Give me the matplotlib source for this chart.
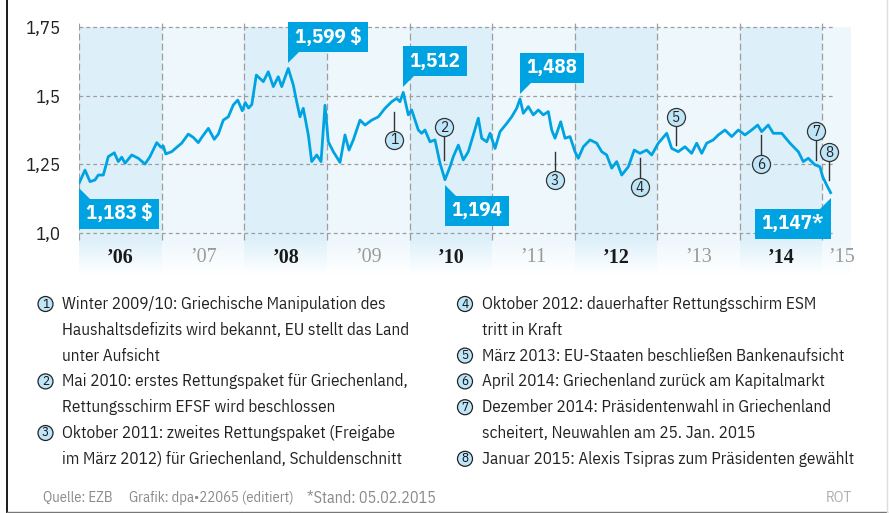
import numpy as np
import matplotlib.pyplot as plt
from matplotlib.patches import Circle, Polygon, Rectangle

plt.rcParams['font.family'] = ['IBM Plex Sans Condensed', 'DejaVu Sans']

W, H = 889, 513

# EUR/USD rate (decimal year, rate in $)
years = [2006.000, 2006.069, 2006.130, 2006.190, 2006.230, 2006.291, 2006.351, 2006.424,
         2006.472, 2006.514, 2006.554, 2006.635, 2006.715, 2006.796, 2006.856, 2006.938,
         2006.990, 2007.017, 2007.047, 2007.119, 2007.180, 2007.240, 2007.320, 2007.381,
         2007.441, 2007.483, 2007.563, 2007.635, 2007.684, 2007.744, 2007.805, 2007.865,
         2007.919, 2007.974, 2008.010, 2008.050, 2008.090, 2008.144, 2008.229, 2008.289,
         2008.350, 2008.410, 2008.452, 2008.531, 2008.592, 2008.633, 2008.673, 2008.713,
         2008.774, 2008.815, 2008.876, 2008.928, 2008.976, 2009.016, 2009.077, 2009.158,
         2009.218, 2009.267, 2009.319, 2009.400, 2009.461, 2009.542, 2009.622, 2009.703,
         2009.784, 2009.844, 2009.884, 2009.924, 2009.985, 2010.026, 2010.106, 2010.147,
         2010.187, 2010.248, 2010.308, 2010.369, 2010.429, 2010.490, 2010.530, 2010.591,
         2010.651, 2010.712, 2010.784, 2010.833, 2010.874, 2010.935, 2010.975, 2011.036,
         2011.096, 2011.177, 2011.237, 2011.298, 2011.338, 2011.378, 2011.439, 2011.499,
         2011.560, 2011.620, 2011.681, 2011.722, 2011.762, 2011.831, 2011.883, 2011.944,
         2012.004, 2012.044, 2012.105, 2012.186, 2012.267, 2012.328, 2012.388, 2012.449,
         2012.509, 2012.570, 2012.650, 2012.722, 2012.791, 2012.873, 2012.933, 2013.013,
         2013.115, 2013.175, 2013.255, 2013.336, 2013.417, 2013.478, 2013.539, 2013.599,
         2013.679, 2013.740, 2013.821, 2013.902, 2013.982, 2014.063, 2014.144, 2014.217,
         2014.265, 2014.345, 2014.406, 2014.508, 2014.608, 2014.709, 2014.769, 2014.830,
         2014.911, 2014.971, 2015.004, 2015.052, 2015.100]
rates = [1.183, 1.229, 1.187, 1.193, 1.211, 1.211, 1.278, 1.292,
         1.260, 1.276, 1.254, 1.284, 1.272, 1.251, 1.278, 1.329,
         1.312, 1.317, 1.288, 1.296, 1.312, 1.327, 1.360, 1.348,
         1.329, 1.348, 1.381, 1.341, 1.360, 1.411, 1.423, 1.466,
         1.484, 1.445, 1.475, 1.455, 1.468, 1.575, 1.551, 1.587,
         1.533, 1.569, 1.533, 1.599, 1.539, 1.478, 1.423, 1.454,
         1.357, 1.260, 1.284, 1.260, 1.465, 1.332, 1.296, 1.257,
         1.357, 1.302, 1.339, 1.411, 1.393, 1.411, 1.423, 1.454,
         1.478, 1.490, 1.478, 1.512, 1.430, 1.448, 1.375, 1.363,
         1.375, 1.332, 1.339, 1.254, 1.194, 1.241, 1.278, 1.320,
         1.266, 1.296, 1.369, 1.418, 1.345, 1.332, 1.363, 1.308,
         1.369, 1.399, 1.423, 1.454, 1.488, 1.436, 1.460, 1.430,
         1.448, 1.430, 1.442, 1.375, 1.345, 1.405, 1.345, 1.351,
         1.296, 1.272, 1.314, 1.339, 1.327, 1.296, 1.284, 1.236,
         1.260, 1.211, 1.241, 1.302, 1.290, 1.302, 1.284, 1.327,
         1.363, 1.308, 1.296, 1.314, 1.290, 1.327, 1.290, 1.327,
         1.339, 1.357, 1.375, 1.351, 1.375, 1.357, 1.375, 1.393,
         1.369, 1.393, 1.363, 1.363, 1.327, 1.296, 1.260, 1.272,
         1.248, 1.241, 1.205, 1.175, 1.147]

yticks = [1.0, 1.25, 1.5, 1.75]
ytick_labels = ['1,0', '1,25', '1,5', '1,75']

band_years = [2006, 2007, 2008, 2009, 2010, 2011, 2012, 2013, 2014, 2015]
year_labels = ['’06', '’07', '’08', '’09', '’10', '’11', '’12', '’13', '’14', '’15']
year_label_x = [2006.5, 2007.5, 2008.5, 2009.5, 2010.5, 2011.5, 2012.5, 2013.5, 2014.5, 2015.23]

# value callouts
call_years = [2006.0, 2008.531, 2009.924, 2010.429, 2011.338, 2015.100]
call_rates = [1.183, 1.599, 1.512, 1.194, 1.488, 1.147]
call_texts = ['1,183 $', '1,599 $', '1,512', '1,194', '1,488', '1,147*']
call_side = ['below', 'above', 'above', 'below', 'above', 'below_left']

# numbered events: x, end of stem on the line, circle centre
ev_years = [2009.812, 2010.418, 2011.762, 2012.792, 2013.228, 2014.258, 2014.924, 2015.080]
ev_stem = [1.440, 1.266, 1.295, 1.273, 1.320, 1.357, 1.266, 1.193]
ev_circle = [1.339, 1.386, 1.193, 1.167, 1.422, 1.251, 1.371, 1.295]

notes_left = [
    (1, ['Winter 2009/10: Griechische Manipulation des',
         'Haushaltsdefizits wird bekannt, EU stellt das Land',
         'unter Aufsicht']),
    (2, ['Mai 2010: erstes Rettungspaket für Griechenland,',
         'Rettungsschirm EFSF wird beschlossen']),
    (3, ['Oktober 2011: zweites Rettungspaket (Freigabe',
         'im März 2012) für Griechenland, Schuldenschnitt']),
]
notes_right = [
    (4, ['Oktober 2012: dauerhafter Rettungsschirm ESM', 'tritt in Kraft']),
    (5, ['März 2013: EU-Staaten beschließen Bankenaufsicht']),
    (6, ['April 2014: Griechenland zurück am Kapitalmarkt']),
    (7, ['Dezember 2014: Präsidentenwahl in Griechenland',
         'scheitert, Neuwahlen am 25. Jan. 2015']),
    (8, ['Januar 2015: Alexis Tsipras zum Präsidenten gewählt']),
]

BLUE = '#00a3e2'
DARK_BAND = '#ddf0fa'
LIGHT_BAND = '#eef7fc'
CIRCLE_FILL = '#bfe6f8'
GRID = '#9d9d9d'

fig = plt.figure(figsize=(W / 100, H / 100), dpi=100)

# chart axes: 2006 at x=79.3px, 82.56 px per year; 1.0 at y=233px, 274.67 px per unit
x_lo, x_hi = 2006.0, 2015.347
y_lo, y_hi = 0.85, 1.80
pxx, pxy = 82.56, 274.67
left = 79.3
top = 233 - (y_hi - 1.0) * pxy
bottom = 233 + (1.0 - y_lo) * pxy
ax = fig.add_axes([left / W, 1 - bottom / H, (x_hi - x_lo) * pxx / W, (bottom - top) / H])
for s in ax.spines.values():
    s.set_visible(False)
ax.patch.set_alpha(0)
ax.set_xticks([])

# full-size pixel axes on top for frame, notes and callouts
bg = fig.add_axes([0, 0, 1, 1])
bg.set_xlim(0, W)
bg.set_ylim(H, 0)
bg.axis('off')
bg.set_zorder(10)

# year bands
for i, y in enumerate(band_years):
    end = min(y + 1, x_hi)
    ax.fill_between([y, end], y_lo, 1.75, color=DARK_BAND if i % 2 == 0 and y < 2015 else LIGHT_BAND,
                    lw=0, zorder=0)

# fade the bands out at the bottom
fade = np.ones((100, 1, 4))
fade[:, 0, 3] = np.linspace(1, 0, 100)
ax.imshow(fade, extent=[x_lo, x_hi, y_lo, 0.975], aspect='auto', zorder=1, origin='lower')
ax.set_xlim(x_lo, x_hi)
ax.set_ylim(y_lo, y_hi)

# grid
ax.hlines(yticks, 2006.0, 2015.14, colors=GRID, lw=0.9, linestyles=(0, (3, 2.5)), zorder=2)
ax.vlines(band_years, 0.975, 1.775, colors=GRID, lw=0.9, linestyles=(0, (5.5, 2.5)), zorder=2)

ax.set_yticks(yticks)
ax.set_yticklabels(ytick_labels, fontsize=13.5, color='#222')
ax.tick_params(axis='y', length=0, pad=13)

# year labels
for i, (lab, xp) in enumerate(zip(year_labels, year_label_x)):
    even = i % 2 == 0
    ax.text(xp, 0.909, lab, ha='center', va='center', fontsize=14.5,
            family='Liberation Serif', fontweight='bold' if even else 'normal',
            color='#1a1a1a' if even else '#9a9a9a', zorder=3)

# the rate line
ax.plot(years, rates, color=BLUE, lw=2.0, zorder=4, solid_joinstyle='round')

# event markers
for n, (t, s, c) in enumerate(zip(ev_years, ev_stem, ev_circle), start=1):
    ax.plot([t, t], [s, c], color='#333333', lw=1.0, zorder=5)
    ax.plot(t, c, 'o', ms=13, mfc=CIRCLE_FILL, mec='#333333', mew=0.9, zorder=6)
    ax.text(t, c - 0.002, str(n), ha='center', va='center', fontsize=11, color='#222', zorder=7)

# value callouts, drawn in pixel space
fig.canvas.draw()
renderer = fig.canvas.get_renderer()
pad, gap, tri, bh = 6.5, 5, 11, 30
for t, v, txt, side in zip(call_years, call_rates, call_texts, call_side):
    X, Y = ax.transData.transform((t, v))
    Y = H - Y
    if side == 'above':
        tip = Y - gap
        base = tip - tri
        btop = base - bh
    else:
        tip = Y + gap
        base = tip + tri
        btop = base
    if side == 'below_left':
        tx = bg.text(X - pad, btop + bh / 2, txt, ha='right', va='center', color='white',
                     fontsize=15, fontweight='bold', zorder=9)
        w = tx.get_window_extent(renderer).width + 2 * pad
        bg.add_patch(Rectangle((X - w, btop), w, bh, color=BLUE, lw=0, zorder=8))
        bg.add_patch(Polygon([(X, tip), (X, base + 0.5), (X - tri, base + 0.5)], color=BLUE, lw=0, zorder=8))
    else:
        tx = bg.text(X + pad, btop + bh / 2, txt, ha='left', va='center', color='white',
                     fontsize=15, fontweight='bold', zorder=9)
        w = tx.get_window_extent(renderer).width + 2 * pad
        bg.add_patch(Rectangle((X, btop), w, bh, color=BLUE, lw=0, zorder=8))
        bg.add_patch(Polygon([(X, tip), (X, base), (X + tri, base)], color=BLUE, lw=0, zorder=8))

# notes below the chart
row0, row_h = 304, 25.8


def draw_notes(notes, cx, tx0):
    row = 0
    for n, lines in notes:
        y = row0 + row * row_h
        bg.add_patch(Circle((cx, y), 7.5, fc=CIRCLE_FILL, ec='#222', lw=0.9, zorder=3))
        bg.text(cx, y, str(n), ha='center', va='center', fontsize=9.5, color='#111', zorder=4)
        for ln in lines:
            bg.text(tx0, row0 + row * row_h, ln, ha='left', va='center', fontsize=12.3, color='#222')
            row += 1


draw_notes(notes_left, 45.5, 62)
draw_notes(notes_right, 465, 482)

# footer
foot_y = 498
bg.text(43, foot_y, 'Quelle: EZB', fontsize=10.5, color='#8a8a8a', va='center')
bg.text(129, foot_y, 'Grafik: dpa•22065 (editiert)', fontsize=10.5, color='#8a8a8a', va='center')
bg.text(307, foot_y, '*Stand: 05.02.2015', fontsize=11.5, color='#8a8a8a', va='center')
bg.text(852, foot_y, 'ROT', fontsize=11, color='#b0b0b0', va='center', ha='right')

# frame
bg.plot([7, 7], [0, H], color='#1a1a1a', lw=1.4)
bg.plot([7, 887], [511.5, 511.5], color='#777', lw=1)
bg.plot([886.5, 886.5], [0, 511.5], color='#dddddd', lw=1)

fig.savefig('out.png', dpi=100)
